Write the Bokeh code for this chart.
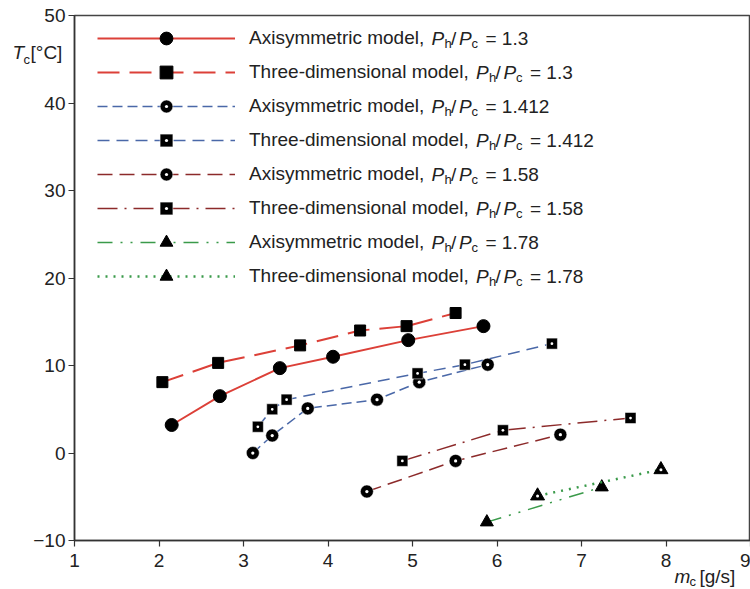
from bokeh.plotting import figure
from bokeh.models import Range1d, FixedTicker, Legend, LegendItem, Label, ColumnDataSource
from bokeh.core.properties import value
from bokeh.embed import file_html
from bokeh.resources import INLINE

# ---------------- data ----------------
x_ticks = [1, 2, 3, 4, 5, 6, 7, 8, 9]
y_ticks = [-10, 0, 10, 20, 30, 40, 50]

ax13_x = [2.15, 2.72, 3.43, 4.06, 4.95, 5.84]
ax13_y = [3.2, 6.5, 9.7, 11.0, 12.9, 14.5]
td13_x = [2.04, 2.70, 3.67, 4.38, 4.93, 5.51]
td13_y = [8.1, 10.3, 12.3, 14.0, 14.5, 16.0]
ax1412_x = [3.11, 3.34, 3.76, 4.58, 5.08, 5.89]
ax1412_y = [0.0, 2.0, 5.1, 6.1, 8.1, 10.1]
td1412_x = [3.17, 3.34, 3.51, 5.06, 5.62, 6.65]
td1412_y = [3.0, 5.0, 6.1, 9.1, 10.1, 12.5]
ax158_x = [4.46, 5.51, 6.75]
ax158_y = [-4.4, -0.9, 2.1]
td158_x = [4.88, 6.07, 7.58]
td158_y = [-0.9, 2.6, 4.0]
ax178_x = [5.88, 7.24]
ax178_y = [-7.9, -3.9]
td178_x = [6.48, 7.94]
td178_y = [-4.9, -1.9]

model_names = ["Axisymmetric model,", "Three-dimensional model,"]
ratios = ["1.3", "1.3", "1.412", "1.412", "1.58", "1.58", "1.78", "1.78"]

RED = "#dc4038"
BLUE = "#4a68a8"
DRED = "#8c2a2a"
GREEN = "#3a9a4a"

series = [
    dict(x=ax13_x, y=ax13_y, color=RED, dash="solid", lw=2.0, marker="circle", size=13, dot=False, kind=0),
    dict(x=td13_x, y=td13_y, color=RED, dash="22 10", lw=2.0, marker="square", size=11, dot=False, kind=1),
    dict(x=ax1412_x, y=ax1412_y, color=BLUE, dash="10 5", lw=1.5, marker="circle_dot", size=13, dot=True, kind=0),
    dict(x=td1412_x, y=td1412_y, color=BLUE, dash="12 7", lw=1.5, marker="square_dot", size=11, dot=True, kind=1),
    dict(x=ax158_x, y=ax158_y, color=DRED, dash="15 7", lw=1.5, marker="circle_dot", size=13, dot=True, kind=0),
    dict(x=td158_x, y=td158_y, color=DRED, dash="20 7 2 7", lw=1.5, marker="square_dot", size=11, dot=True, kind=1),
    dict(x=ax178_x, y=ax178_y, color=GREEN, dash="15 8 2 8 2 8", lw=1.5, marker="triangle", size=13, dot=False, kind=0),
    dict(x=td178_x, y=td178_y, color=GREEN, dash="2 6", lw=2.5, marker="triangle", size=14, dot="tri", kind=1),
]

FONT = "Liberation Sans"
TXT = "#222222"
X0, X1, Y0, Y1 = 1, 9, -10, 50
FRAME_H = 525

p = figure(width=750, height=589, x_range=Range1d(X0, X1), y_range=Range1d(Y0, Y1),
           output_backend="svg", toolbar_location=None,
           min_border_left=74, min_border_right=0, min_border_top=15, min_border_bottom=49)

p.xgrid.visible = False
p.ygrid.visible = False
p.outline_line_color = "#444444"
p.outline_line_width = 1.5
p.background_fill_color = "white"
p.border_fill_color = "white"

for ax in (p.xaxis[0], p.yaxis[0]):
    ax.axis_line_color = "#333333"
    ax.axis_line_width = 1.5
    ax.major_tick_line_color = "#333333"
    ax.major_tick_line_width = 1.2
    ax.major_tick_out = 6
    ax.major_tick_in = 0
    ax.minor_tick_line_color = None
    ax.major_label_text_font = FONT
    ax.major_label_text_font_size = "19px"
    ax.major_label_text_color = TXT
p.xaxis.ticker = FixedTicker(ticks=x_ticks)
p.yaxis.ticker = FixedTicker(ticks=y_ticks)
p.xaxis.major_label_standoff = 7
p.yaxis.major_label_standoff = 3
p.yaxis.major_label_overrides = {-10: "\u221210"}

items = []
for s in series:
    lr = p.line(s["x"], s["y"], line_color=s["color"], line_width=s["lw"], line_dash=s["dash"])
    if s["dot"] is True:
        mr = p.scatter(s["x"], s["y"], marker=s["marker"], size=s["size"], fill_color="black",
                       line_color="white", line_width=0.5)
    else:
        mr = p.scatter(s["x"], s["y"], marker=s["marker"], size=s["size"], fill_color="black",
                       line_color="black", line_width=1)
    if s["dot"] == "tri":
        p.scatter(s["x"], s["y"], marker="circle", size=3, fill_color="white", line_color=None)
    items.append(LegendItem(label=model_names[s["kind"]], renderers=[lr, mr]))

legend = Legend(items=items, location=(23, 248), glyph_width=138, glyph_height=32, spacing=2,
                padding=0, margin=0, label_standoff=14, label_text_font=FONT,
                label_text_font_size="19px", label_text_color=TXT,
                background_fill_alpha=0, border_line_alpha=0)
p.add_layout(legend)

# ratio text P_h/P_c = value after each legend label
p_origin = [357, 401.5]  # offset of "P" from frame left, per model name
for i, (s, r) in enumerate(zip(series, ratios)):
    x0 = p_origin[s["kind"]]
    yo = -(23 + 34 * i)
    pieces = [("P", 0, 0, "19px", "italic"), ("h", 13, -5, "13px", "normal"),
              ("/", 19.5, 0, "19px", "normal"), ("P", 27.5, 0, "19px", "italic"),
              ("c", 40, -5, "13px", "normal"), ("= " + r, 54, 0, "19px", "normal")]
    for t, dx, dy, fs, st in pieces:
        p.add_layout(Label(x=1, y=50, x_offset=x0 + dx, y_offset=yo + dy, text=t,
                           text_font=FONT, text_font_size=fs, text_font_style=st,
                           text_color=TXT, text_baseline="middle", text_align="left"))

# axis titles, drawn as a text glyph at overlay level (outside the frame)
px_per_y = FRAME_H / (Y1 - Y0)
# (text, anchor x, x offset px, pixels below frame top / above frame bottom, size, style)
title_pieces = [
    ("T", X0, -62, ("top", 37), "19px", "italic"),
    ("c", X0, -51, ("top", 44), "13px", "normal"),
    ("[\u00b0C]", X0, -44, ("top", 37), "19px", "normal"),
    ("m", X1, -76, ("bottom", 36), "19px", "italic"),
    ("c", X1, -61, ("bottom", 41), "13px", "normal"),
    ("[g/s]", X1, -51, ("bottom", 36), "19px", "normal"),
]
tsrc = ColumnDataSource(dict(
    x=[t[1] for t in title_pieces],
    xo=[t[2] for t in title_pieces],
    y=[(Y1 - t[3][1] / px_per_y) if t[3][0] == "top" else (Y0 - t[3][1] / px_per_y) for t in title_pieces],
    text=[t[0] for t in title_pieces],
    fs=[t[4] for t in title_pieces],
    st=[t[5] for t in title_pieces],
))
p.text(x="x", y="y", text="text", x_offset="xo", source=tsrc, text_font=value(FONT),
       text_font_size="fs", text_font_style="st", text_color=TXT,
       text_baseline="middle", text_align="left", level="overlay")

open("out.html", "w").write(file_html(p, INLINE))
